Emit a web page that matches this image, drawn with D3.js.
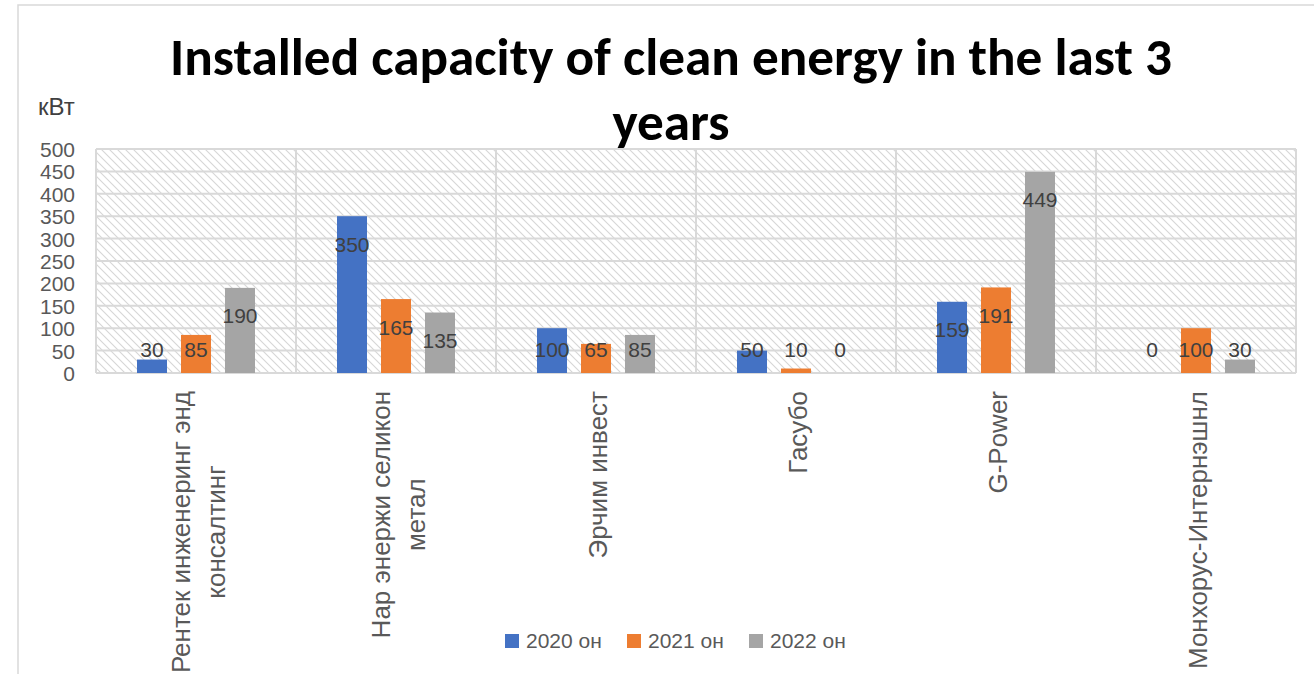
<!DOCTYPE html>
<html><head><meta charset="utf-8">
<script src="https://cdn.jsdelivr.net/npm/d3@7"></script>
<style>body{margin:0;background:#fff;overflow:hidden}</style>
</head><body>
<svg id="c" width="1314" height="674"></svg>
<script>
const categories = [["Рентек инженеринг энд","консалтинг"],["Нар энержи селикон","метал"],["Эрчим инвест"],["Гасубо"],["G-Power"],["Монхорус-Интернэшнл"]];
const seriesNames = ["2020 он","2021 он","2022 он"];
const values2020 = [30,350,100,50,159,0];
const values2021 = [85,165,65,10,191,100];
const values2022 = [190,135,85,0,449,30];
const yTicks = [0,50,100,150,200,250,300,350,400,450,500];
const titleLines = ["Installed capacity of clean energy in the last 3","years"];
const yUnit = "кВт";
const colors = ["#4472C4","#ED7D31","#A5A5A5"];

const series = [values2020, values2021, values2022];
const svg = d3.select("#c");
const W = 1314, H = 674;
const m = {left:96, right:1296, top:149, bottom:373};

// chart border
svg.append("rect").attr("x",18).attr("y",5).attr("width",W+20).attr("height",H+20)
  .attr("fill","#fff").attr("stroke","#d9d9d9").attr("stroke-width",1.5);

// hatch pattern
const defs = svg.append("defs");
const pat = defs.append("pattern").attr("id","hatch").attr("patternUnits","userSpaceOnUse")
  .attr("width",8).attr("height",8);
pat.append("rect").attr("width",8).attr("height",8).attr("fill","#fff");
pat.append("path").attr("d","M0,0L8,8M-4,4L4,12M4,-4L12,4").attr("stroke","#d6d6d6").attr("stroke-width",1.1);

const x0 = d3.scaleBand().domain(d3.range(categories.length)).range([m.left,m.right]).padding(0);
const x1 = d3.scaleBand().domain(d3.range(series.length)).range([-59,59]).paddingInner(0.318).paddingOuter(0);
const y = d3.scaleLinear().domain([0,500]).range([m.bottom,m.top]);

svg.append("rect").attr("x",m.left).attr("y",m.top).attr("width",m.right-m.left).attr("height",m.bottom-m.top)
  .attr("fill","url(#hatch)");

// grid
const grid = svg.append("g");
grid.selectAll("line.h").data(yTicks).join("line").attr("class","h")
  .attr("x1",m.left).attr("x2",m.right).attr("y1",d=>y(d)).attr("y2",d=>y(d))
  .attr("stroke","#d9d9d9").attr("stroke-width",2);
grid.selectAll("line.v").data(d3.range(categories.length+1)).join("line").attr("class","v")
  .attr("x1",d=>m.left+d*x0.step()).attr("x2",d=>m.left+d*x0.step())
  .attr("y1",m.top).attr("y2",m.bottom)
  .attr("stroke","#d9d9d9").attr("stroke-width",2);

// y axis tick labels
const yAxis = d3.axisLeft(y).tickValues(yTicks).tickSize(0).tickPadding(0);
const ya = svg.append("g").attr("transform","translate(75,0)").call(yAxis);
ya.select(".domain").remove();
ya.selectAll("text").attr("font-family","Liberation Sans, Arial, sans-serif").attr("font-size",21)
  .attr("fill","#595959").attr("dy","0.36em");

svg.append("text").attr("x",38).attr("y",115).text(yUnit)
  .attr("font-family","Liberation Sans, Arial, sans-serif").attr("font-size",24).attr("fill","#404040");

// bars
const bars = svg.append("g");
categories.forEach((c,i)=>{
  series.forEach((s,j)=>{
    const v = s[i];
    const bx = x0(i)+x0.bandwidth()/2 + x1(j);
    bars.append("rect").attr("x",bx).attr("width",x1.bandwidth())
      .attr("y",y(v)).attr("height",y(0)-y(v)).attr("fill",colors[j]);
  });
});
// labels
categories.forEach((c,i)=>{
  series.forEach((s,j)=>{
    const v = s[i];
    const cx = x0(i)+x0.bandwidth()/2 + x1(j) + x1.bandwidth()/2;
    const ly = Math.min(y(v)+28, y(0)-24);
    svg.append("text").attr("x",cx).attr("y",ly).attr("dy","0.36em").attr("text-anchor","middle")
      .attr("font-family","Liberation Sans, Arial, sans-serif").attr("font-size",21).attr("fill","#404040")
      .text(v);
  });
});

// x labels
const xl = svg.append("g");
categories.forEach((lines,i)=>{
  const cx = x0(i)+x0.bandwidth()/2 + 2;
  const g = xl.append("g");
  const texts = lines.map((t,k)=> g.append("text").text(t)
    .attr("font-family","Liberation Sans, Arial, sans-serif").attr("font-size",26).attr("fill","#595959")
    .attr("text-anchor","middle"));
  const maxL = d3.max(texts, t=>t.node().getComputedTextLength());
  const cy = 391 + maxL/2;
  const n = lines.length, ls = 35;
  texts.forEach((t,k)=>{
    const off = (k - (n-1)/2)*ls;
    t.attr("transform",`translate(${cx+off},${cy}) rotate(-90)`).attr("dy","0.35em");
  });
});

// legend
const lg = svg.append("g");
const legX = [505,627,749];
seriesNames.forEach((s,j)=>{
  lg.append("rect").attr("x",legX[j]).attr("y",634).attr("width",14).attr("height",14).attr("fill",colors[j]);
  lg.append("text").attr("x",legX[j]+21).attr("y",648).text(s)
    .attr("font-family","Liberation Sans, Arial, sans-serif").attr("font-size",21).attr("fill","#595959");
});

// title
const tg = svg.append("g");
const t1 = tg.append("text").attr("x",671).attr("y",75).attr("text-anchor","middle").text(titleLines[0])
  .attr("font-family","Carlito, Calibri, Lato, sans-serif").attr("font-weight",700).attr("font-size",46).attr("fill","#000");
const w1 = t1.node().getComputedTextLength();
const fs = 46*1002/w1;
t1.attr("font-size",fs);
tg.append("text").attr("x",671).attr("y",140).attr("text-anchor","middle").text(titleLines[1])
  .attr("font-family","Carlito, Calibri, Lato, sans-serif").attr("font-weight",700).attr("font-size",fs).attr("fill","#000");
</script>
</body></html>
